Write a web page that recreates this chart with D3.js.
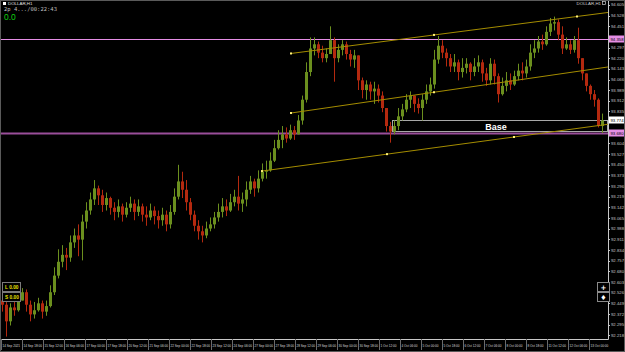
<!DOCTYPE html>
<html>
<head>
<meta charset="utf-8">
<script src="https://cdn.jsdelivr.net/npm/d3@7"></script>
<style>
  body { margin: 0; background: #000; }
  svg { display: block; }
</style>
</head>
<body>
<svg id="chart" width="625" height="352"></svg>
<script>
//// DATA

const symbol = "DOLLAR,H1"

// first bar open, then open = previous close
const firstOpen = 92.47

const closes = [
  92.44,92.32,92.42,92.40,92.47,92.53,92.44,92.37,92.40,92.45,
  92.39,92.43,92.53,92.65,92.75,92.80,92.78,92.89,92.94,92.91,
  93.04,93.12,93.20,93.28,93.23,93.16,93.21,93.14,93.11,93.15,
  93.09,93.14,93.17,93.11,93.15,93.09,93.07,93.12,93.08,93.05,
  93.09,93.02,93.11,93.22,93.33,93.27,93.18,93.09,93.01,92.97,
  92.94,92.99,93.02,93.07,93.11,93.15,93.12,93.18,93.22,93.17,
  93.20,93.27,93.33,93.28,93.35,93.40,93.41,93.48,93.57,93.63,
  93.67,93.64,93.70,93.67,93.77,93.92,94.12,94.29,94.32,94.26,
  94.22,94.25,94.35,94.22,94.28,94.32,94.25,94.21,94.24,94.06,
  93.99,94.03,93.98,94.00,93.95,93.86,93.73,93.69,93.73,93.80,
  93.85,93.92,93.95,93.89,93.86,93.92,93.98,94.03,94.21,94.31,
  94.26,94.22,94.16,94.19,94.12,94.15,94.18,94.12,94.16,94.19,
  94.11,94.06,94.18,94.09,93.96,94.02,94.06,94.03,94.09,94.13,
  94.11,94.16,94.26,94.29,94.34,94.32,94.41,94.47,94.48,94.39,
  94.29,94.32,94.28,94.35,94.22,94.11,94.02,93.96,93.92,93.73,
  93.77
]

const highs = [
  92.49,92.47,92.45,92.46,92.51,92.56,92.55,92.47,92.46,92.49,
  92.47,92.47,92.58,92.71,92.84,92.87,92.85,92.94,92.99,93.02,
  93.09,93.18,93.25,93.34,93.30,93.27,93.25,93.22,93.18,93.20,
  93.17,93.18,93.22,93.20,93.20,93.17,93.15,93.17,93.15,93.12,
  93.14,93.12,93.16,93.28,93.45,93.40,93.34,93.21,93.12,93.05,
  93.01,93.04,93.07,93.11,93.17,93.21,93.20,93.24,93.27,93.37,
  93.25,93.33,93.37,93.35,93.41,93.46,93.48,93.54,93.63,93.70,
  93.73,93.72,93.74,93.73,93.81,93.95,94.19,94.37,94.37,94.34,
  94.31,94.29,94.45,94.37,94.32,94.35,94.34,94.28,94.28,94.24,
  94.08,94.06,94.05,94.05,94.03,93.98,93.86,93.76,93.77,93.86,
  93.89,93.96,93.98,93.95,93.93,93.96,94.03,94.08,94.28,94.38,
  94.35,94.29,94.25,94.25,94.21,94.22,94.22,94.19,94.22,94.24,
  94.21,94.15,94.22,94.21,94.11,94.08,94.12,94.11,94.13,94.18,
  94.19,94.21,94.32,94.35,94.38,94.39,94.45,94.51,94.52,94.50,
  94.45,94.37,94.35,94.38,94.44,94.22,94.11,94.03,93.99,93.93,
  93.82
]

const lows = [
  92.39,92.21,92.29,92.36,92.39,92.47,92.39,92.32,92.34,92.39,
  92.34,92.36,92.42,92.51,92.63,92.71,92.69,92.75,92.85,92.79,
  92.76,92.99,93.09,93.16,93.16,93.11,93.12,93.09,93.05,93.07,
  93.04,93.07,93.11,93.05,93.08,93.04,93.01,93.05,93.02,92.99,
  93.01,92.97,92.99,93.09,93.20,93.21,93.12,93.05,92.97,92.91,
  92.89,92.92,92.97,92.99,93.04,93.07,93.08,93.11,93.15,93.12,
  93.11,93.15,93.24,93.22,93.25,93.33,93.35,93.40,93.47,93.56,
  93.57,93.61,93.63,93.63,93.69,93.74,93.90,94.09,94.24,94.22,
  94.19,94.19,94.28,94.05,94.19,94.24,94.21,94.16,94.15,93.99,
  93.93,93.92,93.92,93.89,93.90,93.83,93.69,93.61,93.67,93.70,
  93.77,93.83,93.86,93.83,93.82,93.77,93.89,93.95,94.00,94.18,
  94.22,94.16,94.12,94.12,94.06,94.08,94.11,94.06,94.09,94.12,
  94.05,94.02,94.03,94.03,93.90,93.95,93.98,93.99,94.02,94.06,
  94.06,94.08,94.13,94.22,94.26,94.28,94.31,94.38,94.42,94.35,
  94.25,94.28,94.25,94.26,94.18,94.06,93.98,93.92,93.87,93.72,
  93.68
]

// price axis labels
const priceTicks = [
  94.605,94.528,94.451,94.374,94.297,94.220,94.143,94.066,93.989,93.912,
  93.835,93.758,93.681,93.604,93.527,93.450,93.373,93.296,93.219,93.142,
  93.065,92.988,92.911,92.834,92.757,92.680,92.603,92.526,92.449,92.372,
  92.295,92.218
]

// time axis labels
const timeTicks = [
  "14 Sep 2021","14 Sep 18:00","15 Sep 12:00","16 Sep 06:00","17 Sep 00:00",
  "17 Sep 18:00","20 Sep 12:00","21 Sep 06:00","22 Sep 00:00","22 Sep 18:00",
  "23 Sep 12:00","24 Sep 06:00","27 Sep 00:00","27 Sep 18:00","28 Sep 12:00",
  "29 Sep 06:00","30 Sep 00:00","30 Sep 18:00","1 Oct 12:00","4 Oct 06:00",
  "5 Oct 00:00","5 Oct 18:00","6 Oct 12:00","7 Oct 06:00","8 Oct 00:00",
  "8 Oct 18:00","11 Oct 12:00","12 Oct 06:00","13 Oct 00:00"
]

// channel trendlines: [bar1, price1, bar2, price2], extended to the right edge
const channelLines = [
  [72.25, 94.254, 143.75, 94.521],
  [72.25, 93.824, 108, 93.974],
  [65, 93.405, 128, 93.651]
]
// anchor points on the channel
const channelDots = [
  [72.25, 94.254], [108, 94.388], [143.75, 94.521],
  [72.25, 93.824], [108, 93.974],
  [65, 93.405], [96.25, 93.527], [128, 93.651]
]

// horizontal levels
const levelPrices = [94.358, 93.680]
const levelColors = ["#e58ee5", "#9a4e9a"]

// "Base" zone: [start bar, top price, bottom price]
const baseZone = [97.5, 93.774, 93.691]

//// LAYOUT

const W = 625, H = 352
const plotRight = 608, plotBottom = 339
const upColor = "#6b8f1e"
const downColor = "#b4290f"
const axisColor = "#c8c8c8"
const channelColor = "#a48c00"
const smallFont = "Liberation Sans, Arial, sans-serif"

const svg = d3.select("#chart")
svg.append("rect").attr("width", W).attr("height", H).attr("fill", "#000")

const x = d3.scaleLinear().domain([0, closes.length - 1]).range([2, 602])
const y = d3.scaleLinear().domain([94.64, 92.1852]).range([0, 340])

const bars = closes.map((c, i) => {
  const o = i == 0 ? firstOpen : closes[i - 1]
  return { i, o, c, h: Math.max(highs[i], o, c), l: Math.min(lows[i], o, c) }
})

const plot = svg.append("g")

// horizontal levels
plot.selectAll(".level")
  .data(levelPrices)
  .join("line")
  .attr("class", "level")
  .attr("x1", 0).attr("x2", plotRight)
  .attr("y1", p => Math.round(y(p)) + 0.5)
  .attr("y2", p => Math.round(y(p)) + 0.5)
  .attr("stroke", (p, i) => levelColors[i])
  .attr("stroke-width", (p, i) => i == 0 ? 1 : 2)

// base rectangle
plot.append("rect")
  .attr("x", Math.round(x(baseZone[0])) + 0.5)
  .attr("y", Math.round(y(baseZone[1])) + 0.5)
  .attr("width", plotRight - Math.round(x(baseZone[0])) - 1)
  .attr("height", Math.round(y(baseZone[2])) - Math.round(y(baseZone[1])))
  .attr("fill", "none")
  .attr("stroke", "#a8a8a8")
  .attr("stroke-width", 1)

// candles: wicks then bodies
plot.selectAll(".wick")
  .data(bars)
  .join("line")
  .attr("class", "wick")
  .attr("x1", d => Math.round(x(d.i)) + 0.5)
  .attr("x2", d => Math.round(x(d.i)) + 0.5)
  .attr("y1", d => y(d.h))
  .attr("y2", d => y(d.l))
  .attr("stroke", d => d.c >= d.o ? upColor : downColor)
  .attr("stroke-width", 1)

plot.selectAll(".body")
  .data(bars)
  .join("rect")
  .attr("class", "body")
  .attr("x", d => Math.round(x(d.i)) - 1)
  .attr("width", 3)
  .attr("y", d => y(Math.max(d.o, d.c)))
  .attr("height", d => Math.max(1, Math.abs(y(d.o) - y(d.c))))
  .attr("fill", d => d.c >= d.o ? upColor : downColor)

// channel lines
const endBar = x.invert(plotRight)
plot.selectAll(".channel")
  .data(channelLines)
  .join("line")
  .attr("class", "channel")
  .attr("x1", d => x(d[0]))
  .attr("y1", d => y(d[1]))
  .attr("x2", x(endBar))
  .attr("y2", d => y(d[1] + (d[3] - d[1]) / (d[2] - d[0]) * (endBar - d[0])))
  .attr("stroke", channelColor)
  .attr("stroke-width", 1)

plot.selectAll(".dot")
  .data(channelDots)
  .join("rect")
  .attr("class", "dot")
  .attr("x", d => x(d[0]) - 1)
  .attr("y", d => y(d[1]) - 1)
  .attr("width", 2).attr("height", 2)
  .attr("fill", "#fff27a")

// Base label
plot.append("text")
  .attr("x", x(baseZone[0] + 26))
  .attr("y", y(baseZone[2]) - 1)
  .attr("text-anchor", "middle")
  .attr("font-family", smallFont)
  .attr("font-weight", "bold")
  .attr("font-size", 9)
  .attr("fill", "#fff")
  .text("Base")

//// AXES

svg.append("line")
  .attr("x1", plotRight + 0.5).attr("x2", plotRight + 0.5)
  .attr("y1", 0).attr("y2", plotBottom + 0.5)
  .attr("stroke", axisColor)
svg.append("line")
  .attr("x1", 0).attr("x2", plotRight + 0.5)
  .attr("y1", plotBottom + 0.5).attr("y2", plotBottom + 0.5)
  .attr("stroke", axisColor)
// window frame
svg.append("rect")
  .attr("x", 0.5).attr("y", 0.5).attr("width", W - 1).attr("height", H - 1)
  .attr("fill", "none").attr("stroke", "#5a5a5a")

// highlighted price labels on the axis (drawn over the regular ones)
const priceFlags = [
  [levelPrices[0], levelColors[0]],
  [baseZone[1], "#ffffff"],
  [levelPrices[1], "#e58ee5"]
]
const flagY = priceFlags.map(f => y(f[0]))

const priceAxis = svg.append("g")
priceAxis.selectAll(".ptick")
  .data(priceTicks)
  .join("line")
  .attr("x1", plotRight).attr("x2", plotRight + 2)
  .attr("y1", p => Math.round(y(p)) + 0.5)
  .attr("y2", p => Math.round(y(p)) + 0.5)
  .attr("stroke", axisColor)
priceAxis.selectAll(".plabel")
  .data(priceTicks.filter(p => flagY.every(fy => Math.abs(y(p) - fy) > 6)))
  .join("text")
  .attr("x", plotRight + 3)
  .attr("y", p => y(p) + 1.6)
  .attr("font-family", smallFont)
  .attr("font-size", 4.4)
  .attr("textLength", 13)
  .attr("lengthAdjust", "spacingAndGlyphs")
  .attr("fill", axisColor)
  .text(p => p.toFixed(3))

priceFlags.forEach(([p, bg]) => {
  const yy = Math.round(y(p))
  priceAxis.append("rect")
    .attr("x", plotRight + 1).attr("y", yy - 3.5)
    .attr("width", W - plotRight - 2).attr("height", 7)
    .attr("fill", bg)
  priceAxis.append("text")
    .attr("x", plotRight + 2.5).attr("y", yy + 1.6)
    .attr("font-family", smallFont)
    .attr("font-size", 4.4)
    .attr("textLength", 13)
    .attr("lengthAdjust", "spacingAndGlyphs")
    .attr("fill", "#000")
    .text(p.toFixed(3))
})

const tx = d3.scalePoint().domain(timeTicks).range([1, 589])
const timeAxis = svg.append("g")
timeAxis.selectAll(".ttick")
  .data(timeTicks)
  .join("line")
  .attr("x1", d => Math.round(tx(d)) + 0.5)
  .attr("x2", d => Math.round(tx(d)) + 0.5)
  .attr("y1", plotBottom).attr("y2", plotBottom + 11)
  .attr("stroke", "#6a6a6a")
timeAxis.selectAll(".tlabel")
  .data(timeTicks)
  .join("text")
  .attr("x", d => tx(d) + 1.5)
  .attr("y", 347)
  .attr("font-family", smallFont)
  .attr("font-size", 3.1)
  .attr("fill", "#dcdcdc")
  .text(d => d)

//// OVERLAY TEXT

svg.append("rect").attr("x", 3).attr("y", 2).attr("width", 3).attr("height", 3).attr("fill", "#fff")
svg.append("text")
  .attr("x", 8).attr("y", 5)
  .attr("font-family", smallFont).attr("font-size", 4.4)
  .attr("fill", "#e0e0e0").text(symbol)
svg.append("text")
  .attr("x", 4).attr("y", 11)
  .attr("font-family", "DejaVu Sans Mono, monospace").attr("font-size", 5.5)
  .attr("fill", "#bdbdbd").text("2p 4.../00:22:43")
svg.append("text")
  .attr("x", 4).attr("y", 19.5)
  .attr("font-family", smallFont).attr("font-size", 8.5)
  .attr("fill", "#10d010").text("0.0")

svg.append("text")
  .attr("x", 601).attr("y", 5)
  .attr("text-anchor", "end")
  .attr("font-family", smallFont).attr("font-size", 4.4)
  .attr("fill", "#cfcfcf").text(symbol)
svg.append("rect").attr("x", 602.5).attr("y", 1.5).attr("width", 3).attr("height", 3)
  .attr("fill", "none").attr("stroke", "#cfcfcf").attr("stroke-width", 0.7)

// lot boxes bottom left
const lotBoxes = ["L 0.00", "S 0.00"]
lotBoxes.forEach((t, i) => {
  svg.append("rect")
    .attr("x", 2.5).attr("y", 282.5 + i * 10).attr("width", 18).attr("height", 9)
    .attr("fill", "#000").attr("stroke", "#7a7a7a")
  svg.append("text")
    .attr("x", 5).attr("y", 289 + i * 10)
    .attr("font-family", smallFont).attr("font-size", 4.8)
    .attr("font-weight", "bold")
    .attr("fill", "#e8e000").text(t)
})

// scroll buttons bottom right
const navButtons = ["+", "\u2666"]
navButtons.forEach((t, i) => {
  svg.append("rect")
    .attr("x", 597.5).attr("y", 282.5 + i * 10).attr("width", 12).attr("height", 9)
    .attr("fill", "#000").attr("stroke", "#8a8a8a")
  svg.append("text")
    .attr("x", 603.5).attr("y", 289.5 + i * 10)
    .attr("text-anchor", "middle")
    .attr("font-family", "DejaVu Sans, sans-serif").attr("font-size", 7)
    .attr("font-weight", "bold")
    .attr("fill", "#fff").text(t)
})
</script>
</body>
</html>
